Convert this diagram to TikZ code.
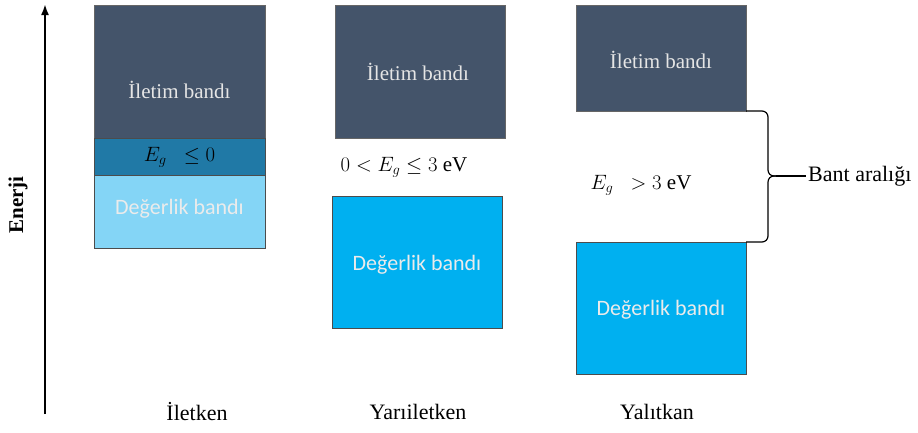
\documentclass[tikz,border=0pt]{standalone}
\usepackage{fontspec}
\usetikzlibrary{arrows.meta}
\setmainfont{Liberation Serif}
\newfontfamily\serifband{Liberation Serif}
\newfontfamily\sansband{Carlito}
\begin{document}
\begin{tikzpicture}[x=1pt,y=-1pt,
  dark/.style={draw=black!60, fill=bandDark, line width=0.6pt},
  mid/.style={draw=black!70, fill=bandMid, line width=0.6pt},
  light/.style={draw=black!70, fill=bandLight, line width=0.6pt},
  val/.style={draw=black!70, fill=bandVal, line width=0.6pt},
  cbtext/.style={text=white!90!black, font=\serifband\fontsize{21}{24}\selectfont},
  vbtext/.style={text=white!92!black, font=\sansband\fontsize{22}{25}\selectfont},
  lbl/.style={font=\serifband\fontsize{22}{25}\selectfont},
  mathlbl/.style={font=\fontsize{21}{24}\selectfont}]
\definecolor{bandDark}{HTML}{44546A}
\definecolor{bandMid}{HTML}{2079A6}
\definecolor{bandLight}{HTML}{84D5F6}
\definecolor{bandVal}{HTML}{00B0F0}
\path[use as bounding box, fill=white] (0,0) rectangle (918,432);
% energy axis
\coordinate (axB) at (45,414);
\coordinate (axT) at (45,4);
\draw[line width=2pt, -{Latex[length=11pt,width=8pt]}] (axB) -- (axT);
\node[rotate=90, font=\serifband\bfseries\fontsize{21}{24}\selectfont] (enerji) at (18,205) {Enerji};
% conductor
\draw[dark] (94,5) rectangle (265,138);
\node[cbtext] (c1) at (179.5,90) {İletim bandı};
\draw[mid] (94,138) rectangle (265,175);
\node[mathlbl] (c2) at (179.5,157) {$E_g\;\;\leq 0$};
\draw[light] (94,175) rectangle (265,248);
\node[vbtext] (c3) at (179.5,209) {Değerlik bandı};
\node[lbl] (l1) at (197,412) {İletken};
% semiconductor
\draw[dark] (335,5) rectangle (505,138);
\node[cbtext] (s1) at (418,72) {İletim bandı};
\node[mathlbl] (s2) at (404,167) {$0 < E_g \leq 3\ \mathrm{eV}$};
\draw[val] (332,196) rectangle (502,328);
\node[vbtext] (s3) at (417,265) {Değerlik bandı};
\node[lbl] (l2) at (418,412) {Yarıiletken};
% insulator
\draw[dark] (576,5) rectangle (746,111);
\node[cbtext] (i1) at (661,60) {İletim bandı};
\node[mathlbl] (i2) at (641,185) {$E_g\;\;> 3\ \mathrm{eV}$};
\draw[val] (576,242) rectangle (746,374);
\node[vbtext] (i3) at (661,310) {Değerlik bandı};
\node[lbl] (l3) at (657,412) {Yalıtkan};
% brace
\coordinate (bt) at (746,111);
\coordinate (bb) at (746,242);
\coordinate (tip) at (776,176);
\node[lbl, anchor=west, inner sep=2pt] (gap) at (806,176) {Bant aralığı};
\draw[line width=1.2pt, rounded corners=6pt] (bt) -- (768,111) -- (768,176) -- (tip);
\draw[line width=1.2pt, rounded corners=6pt] (bb) -- (768,242) -- (768,176) -- (tip);
\draw[line width=1.2pt] (tip) -- (gap.west);
\end{tikzpicture}
\end{document}
